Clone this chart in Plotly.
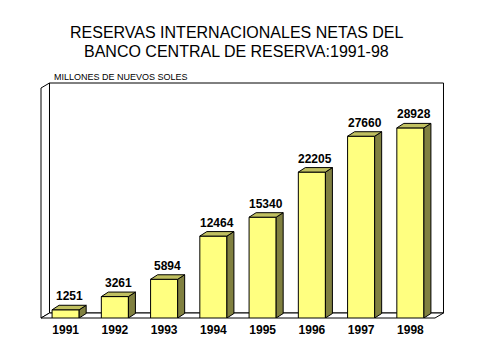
import plotly.graph_objects as go

years = ["1991", "1992", "1993", "1994", "1995", "1996", "1997", "1998"]
reserves = [1251, 3261, 5894, 12464, 15340, 22205, 27660, 28928]

title_lines = ["RESERVAS INTERNACIONALES NETAS DEL", "BANCO CENTRAL DE RESERVA:1991-98"]
unit_label = "MILLONES DE NUEVOS SOLES"

FONT = "Arial, Liberation Sans, sans-serif"
PAGE_W, PAGE_H = 477, 356
OFF = 8  # default body margin of the html page
W, H = PAGE_W - 2 * OFF, PAGE_H - 2 * OFF
# plot area in page pixels
PX0, PX1, PY0, PY1 = 40.8, 435, 88, 318
ML, MT = PX0 - OFF, PY0 - OFF
MR, MB = (W + OFF) - PX1, (H + OFF) - PY1
PW, PH = PX1 - PX0, PY1 - PY0
YMAX = 35000
BAR_W = 0.55
FRONT = "#FFFF80"
SIDE = "#808040"
TOP = "#C0C060"

bdx_px, bdy_px = 7, 4.5
bdx = bdx_px / (PW / len(years))
bdy = bdy_px / PH * YMAX

wdx = 8.5 / PW
wdy = 5 / PH


def px_to_paper(px, py):
    return (px - PX0) / PW, (PY1 - py) / PH


xs = list(range(len(years)))

fig = go.Figure()

fig.add_trace(go.Bar(x=xs, y=reserves, width=BAR_W,
                     marker=dict(color=FRONT, line=dict(color="black", width=1)),
                     hoverinfo="skip"))

sx, sy, tx, ty = [], [], [], []
for i, v in zip(xs, reserves):
    r = i + BAR_W / 2
    l = i - BAR_W / 2
    sx += [r, r + bdx, r + bdx, r, r, None]
    sy += [0, bdy, v + bdy, v, 0, None]
    tx += [l, l + bdx, r + bdx, r, l, None]
    ty += [v, v + bdy, v + bdy, v, v, None]
fig.add_trace(go.Scatter(x=sx, y=sy, mode="lines", fill="toself", fillcolor=SIDE,
                         line=dict(color="black", width=1), hoverinfo="skip"))
fig.add_trace(go.Scatter(x=tx, y=ty, mode="lines", fill="toself", fillcolor=TOP,
                         line=dict(color="black", width=1), hoverinfo="skip"))

for i, v in zip(xs, reserves):
    fig.add_annotation(x=i + bdx / 2, y=v + bdy, text=f"<b>{v}</b>", showarrow=False,
                       yanchor="bottom", yshift=0,
                       font=dict(family=FONT, size=12, color="black"))

shapes = []
shapes.append(dict(type="rect", xref="paper", yref="paper", x0=wdx, x1=1 + wdx,
                   y0=wdy, y1=1 + wdy, line=dict(color="black", width=1),
                   fillcolor="white", layer="below"))
shapes.append(dict(type="path", xref="paper", yref="paper",
                   path=f"M 0 0 L 0 1 L {wdx} {1 + wdy} L {wdx} {wdy} Z",
                   line=dict(color="black", width=1), fillcolor="white", layer="below"))
shapes.append(dict(type="path", xref="paper", yref="paper",
                   path=f"M 0 0 L 1 0 L {1 + wdx} {wdy} L {wdx} {wdy} Z",
                   line=dict(color="black", width=1), fillcolor="white", layer="below"))
fig.update_layout(shapes=shapes)

tx1, ty1 = px_to_paper(236.5, 32.5)
tx2, ty2 = px_to_paper(236.5, 51)
ux, uy = px_to_paper(52, 77)
fig.add_annotation(xref="paper", yref="paper", x=tx1, y=ty1,
                   text=title_lines[0], showarrow=False, xanchor="center", yanchor="middle",
                   font=dict(family=FONT, size=16, color="black"))
fig.add_annotation(xref="paper", yref="paper", x=tx2, y=ty2,
                   text=title_lines[1], showarrow=False, xanchor="center", yanchor="middle",
                   font=dict(family=FONT, size=16, color="black"))
fig.add_annotation(xref="paper", yref="paper", x=ux, y=uy,
                   text=unit_label, showarrow=False, xanchor="left", yanchor="middle",
                   font=dict(family=FONT, size=9, color="black"))

fig.update_layout(
    width=W, height=H,
    margin=dict(l=ML, r=MR, t=MT, b=MB, pad=0, autoexpand=False),
    paper_bgcolor="white", plot_bgcolor="rgba(0,0,0,0)",
    showlegend=False,
    xaxis=dict(range=[-0.5, len(years) - 0.5], tickvals=xs,
               ticktext=[f"<b>{y}</b>" for y in years],
               showgrid=False, zeroline=False, showline=False, ticks="",
               ticklabelstandoff=3,
               tickfont=dict(family=FONT, size=12, color="black"),
               fixedrange=True),
    yaxis=dict(range=[0, YMAX], visible=False, fixedrange=True),
)

fig.write_html("out.html")
